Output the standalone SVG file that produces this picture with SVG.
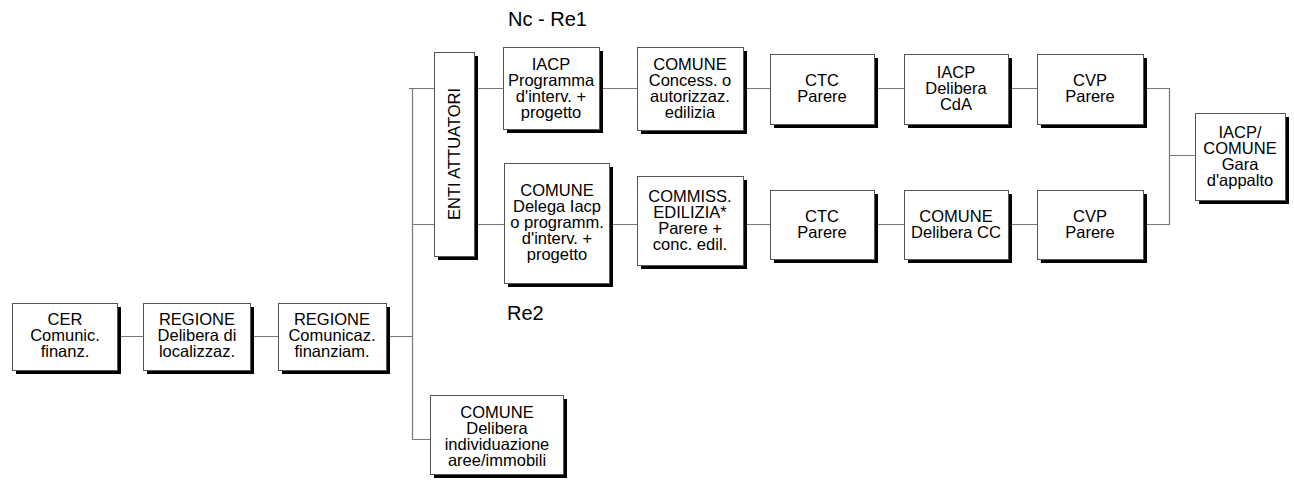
<svg xmlns="http://www.w3.org/2000/svg" width="1294" height="485" viewBox="0 0 1294 485">
<style>
.bx{fill:#fff;stroke:#555;stroke-width:1}
.sh{fill:#000}
.t{font-family:"Liberation Sans",Arial,sans-serif;font-size:16.5px;fill:#000;text-anchor:middle}
.lbl{font-family:"Liberation Sans",Arial,sans-serif;font-size:20px;fill:#000}
.ln{fill:none;stroke:#777;stroke-width:1.2}
</style>
<rect width="1294" height="485" fill="#fff"/>
<g id="connectors">
<path class="ln" d="M117,336.5H143 M250,336.5H278 M386,336.5H412.5"/>
<path class="ln" d="M409,88.5H434 M412.5,88.5V439.5H430 M412.5,224.5H434"/>
<path class="ln" d="M474,88.5H503 M599,88.5H637 M743,88.5H770 M874,88.5H904 M1008,88.5H1037 M1143,88.5H1169.5V224.5H1143 M1169.5,155.5H1195"/>
<path class="ln" d="M474,224.5H504 M609,224.5H637 M743,224.5H770 M874,224.5H904 M1008,224.5H1037"/>
</g>
<g id="n_cer">
<rect class="sh" x="16" y="307" width="105" height="67"/>
<rect class="bx" x="12.5" y="303.5" width="105" height="67"/>
<text class="t" x="65" y="325">CER</text><text class="t" x="65" y="341">Comunic.</text><text class="t" x="65" y="357">finanz.</text>
</g>
<g id="n_reg1">
<rect class="sh" x="147" y="307" width="107" height="67"/>
<rect class="bx" x="143.5" y="303.5" width="107" height="67"/>
<text class="t" x="197" y="325">REGIONE</text><text class="t" x="197" y="341">Delibera di</text><text class="t" x="197" y="357">localizzaz.</text>
</g>
<g id="n_reg2">
<rect class="sh" x="282" y="307" width="108" height="67"/>
<rect class="bx" x="278.5" y="303.5" width="108" height="67"/>
<text class="t" x="332" y="325">REGIONE</text><text class="t" x="332" y="341">Comunicaz.</text><text class="t" x="332" y="357">finanziam.</text>
</g>
<g id="n_enti">
<rect class="sh" x="438" y="56" width="40" height="204"/>
<rect class="bx" x="434.5" y="52.5" width="40" height="204"/>
<text class="t" transform="translate(460,154) rotate(-90)">ENTI ATTUATORI</text>
</g>
<g id="n_iacp_prog">
<rect class="sh" x="507" y="51" width="96" height="82"/>
<rect class="bx" x="503.5" y="47.5" width="96" height="82"/>
<text class="t" x="551" y="70">IACP</text><text class="t" x="551" y="86">Programma</text><text class="t" x="551" y="102">d'interv. +</text><text class="t" x="551" y="118">progetto</text>
</g>
<g id="n_comune_conc">
<rect class="sh" x="641" y="51" width="106" height="83"/>
<rect class="bx" x="637.5" y="47.5" width="106" height="83"/>
<text class="t" x="690" y="70">COMUNE</text><text class="t" x="690" y="86">Concess. o</text><text class="t" x="690" y="102">autorizzaz.</text><text class="t" x="690" y="118">edilizia</text>
</g>
<g id="n_ctc1">
<rect class="sh" x="774" y="58" width="104" height="70"/>
<rect class="bx" x="770.5" y="54.5" width="104" height="70"/>
<text class="t" x="822" y="86">CTC</text><text class="t" x="822" y="102">Parere</text>
</g>
<g id="n_iacp_del">
<rect class="sh" x="908" y="58" width="104" height="70"/>
<rect class="bx" x="904.5" y="54.5" width="104" height="70"/>
<text class="t" x="956" y="78">IACP</text><text class="t" x="956" y="94">Delibera</text><text class="t" x="956" y="110">CdA</text>
</g>
<g id="n_cvp1">
<rect class="sh" x="1041" y="58" width="106" height="70"/>
<rect class="bx" x="1037.5" y="54.5" width="106" height="70"/>
<text class="t" x="1090" y="86">CVP</text><text class="t" x="1090" y="102">Parere</text>
</g>
<g id="n_comune_delega">
<rect class="sh" x="508" y="167" width="105" height="120"/>
<rect class="bx" x="504.5" y="163.5" width="105" height="120"/>
<text class="t" x="557" y="196">COMUNE</text><text class="t" x="557" y="212">Delega Iacp</text><text class="t" x="557" y="228">o programm.</text><text class="t" x="557" y="244">d'interv. +</text><text class="t" x="557" y="260">progetto</text>
</g>
<g id="n_commiss">
<rect class="sh" x="641" y="180" width="106" height="89"/>
<rect class="bx" x="637.5" y="176.5" width="106" height="89"/>
<text class="t" x="690" y="202">COMMISS.</text><text class="t" x="690" y="218">EDILIZIA*</text><text class="t" x="690" y="234">Parere +</text><text class="t" x="690" y="250">conc. edil.</text>
</g>
<g id="n_ctc2">
<rect class="sh" x="774" y="194" width="104" height="69"/>
<rect class="bx" x="770.5" y="190.5" width="104" height="69"/>
<text class="t" x="822" y="222">CTC</text><text class="t" x="822" y="238">Parere</text>
</g>
<g id="n_comune_cc">
<rect class="sh" x="908" y="194" width="104" height="69"/>
<rect class="bx" x="904.5" y="190.5" width="104" height="69"/>
<text class="t" x="956" y="222">COMUNE</text><text class="t" x="956" y="238">Delibera CC</text>
</g>
<g id="n_cvp2">
<rect class="sh" x="1041" y="194" width="106" height="69"/>
<rect class="bx" x="1037.5" y="190.5" width="106" height="69"/>
<text class="t" x="1090" y="222">CVP</text><text class="t" x="1090" y="238">Parere</text>
</g>
<g id="n_gara">
<rect class="sh" x="1199" y="117" width="90" height="87"/>
<rect class="bx" x="1195.5" y="113.5" width="90" height="87"/>
<text class="t" x="1240" y="138">IACP/</text><text class="t" x="1240" y="154">COMUNE</text><text class="t" x="1240" y="170">Gara</text><text class="t" x="1240" y="186">d'appalto</text>
</g>
<g id="n_comune_aree">
<rect class="sh" x="434" y="399" width="133" height="79"/>
<rect class="bx" x="430.5" y="395.5" width="133" height="79"/>
<text class="t" x="497" y="418">COMUNE</text><text class="t" x="497" y="434">Delibera</text><text class="t" x="497" y="450">individuazione</text><text class="t" x="497" y="466">aree/immobili</text>
</g>
<g id="labels">
<text class="lbl" x="508" y="26">Nc - Re1</text>
<text class="lbl" x="507" y="320">Re2</text>
</g>
</svg>
